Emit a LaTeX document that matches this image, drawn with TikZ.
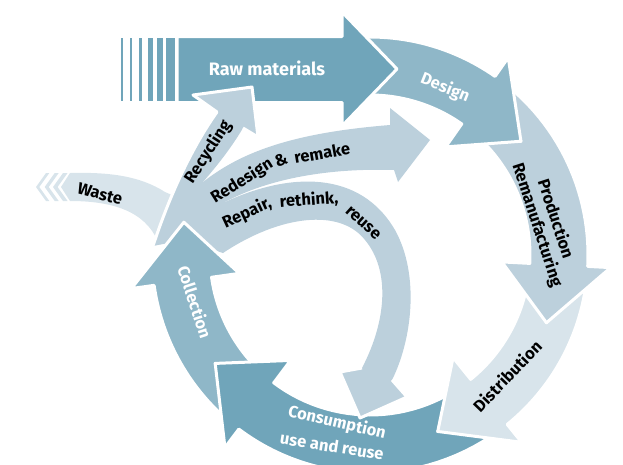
\documentclass[tikz,border=0pt]{standalone}
\usepackage{fontspec}
\setmainfont{Fira Sans}
\definecolor{cA}{HTML}{70A5BA}
\definecolor{cB}{HTML}{8FB7C8}
\definecolor{cC}{HTML}{BCD0DC}
\definecolor{cD}{HTML}{D8E4EB}
\newcommand\labfont{\fontsize{16.5}{19}\selectfont\bfseries}
% #1 colour, #2 tail angle, #3 notch angle, #4 head base angle
\newcommand\ringarrow[4]{%
  \filldraw[ringedge, fill=#1]
    plot[domain=#2:#4, samples=30] (\x:218) -- (#4:241) -- ({#4+18}:189) -- (#4:132)
    -- plot[domain=#4:#2, samples=30] (\x:160) -- (#3:189) -- cycle;}
\begin{document}
\begin{tikzpicture}[x=1pt,y=-1pt,
  ringedge/.style={draw=white, line width=3pt, line join=round},
  lab/.style={font=\labfont, inner sep=0pt},
  wlab/.style={lab, text=white}]
\useasboundingbox (0,0) rectangle (623,464);
% ---- main ring ----
\begin{scope}[shift={(370,255)}]
  \ringarrow{cB}{127}{145}{172}   % collection
  \ringarrow{cA}{51}{69}{127}     % consumption
  \ringarrow{cD}{3}{21}{51}       % distribution
  \ringarrow{cC}{-55}{-37}{3}     % production
  \ringarrow{cB}{-97}{-82.4}{-55} % design
\end{scope}
% ---- raw materials ----
\foreach \a/\w in {120.7/2, 129.7/2.7, 138.7/3.6, 147.7/5.6, 156.7/6.6, 165.7/9.3}
  \fill[cA] (\a,38) rectangle ++(\w,63);
\filldraw[ringedge, fill=cA] (177,36.5) -- (342,36.5) -- (342,12) -- (397,69)
  -- (342,126) -- (342,102.5) -- (177,102.5) -- cycle;
% ---- waste ----
\foreach \t/\w in {36/3.3, 44.7/4, 53/4.6}
  \fill[cD] ({\t+10},173) -- (\t,187) -- ({\t+10},201) -- ({\t+10+\w},201)
    -- ({\t+\w},187) -- ({\t+10+\w},173) -- cycle;
\fill[cD] (70,173) -- (61,187) -- (70,201) .. controls (110,201) and (145,210) .. (158,242)
  -- (175,240) -- (172,195) -- (165,192) .. controls (140,176) and (110,172) .. (70,173) -- cycle;
% ---- branches ----
\fill[cC] (184,240) -- (153,246) .. controls (168,200) and (190,150) .. (217,112)
  -- (193,95) -- (252,87) -- (258,137) -- (243,128) .. controls (230,150) and (215,168) .. (203,182)
  -- (225,202) -- (223,253) -- cycle;
\draw[ringedge] (153,246) .. controls (168,200) and (190,150) .. (217,112)
  -- (193,95) -- (252,87) -- (258,137) -- (243,128);
\fill[cC] (205,235) -- (203,182) .. controls (240,153) and (290,133) .. (390,125)
  -- (390,108) -- (430,140) -- (398,182) -- (394,170) .. controls (330,168) and (270,178) .. (225,202) -- cycle;
\fill[cC] (225,202) .. controls (290,172) and (360,170) .. (395,230)
  .. controls (420,275) and (412,340) .. (392,380) -- (407,397) -- (360,418) -- (340,372) -- (362,368)
  .. controls (387,320) and (390,270) .. (365,240) .. controls (340,208) and (280,215) .. (223,253)
  -- (205,235) -- cycle;
\draw[ringedge] (392,380) -- (407,397) -- (360,418) -- (340,372) -- (362,368);
% ---- collection head on top of the branches ----
\begin{scope}
  \clip (0,0) rectangle (623,330);
  \begin{scope}[shift={(370,255)}]
    \ringarrow{cB}{127}{145}{172}
  \end{scope}
\end{scope}
% ---- labels ----
\node[wlab, font=\fontsize{18}{20}\selectfont\bfseries] (raw) at (267,68) {Raw materials};
\node[wlab, rotate=-22] (design) at (445,88) {Design};
\node[lab, rotate=-72, align=center] (prod) at (546,222) {Production\\Remanufacturing};
\node[lab, rotate=46] (dist) at (507,376) {Distribution};
\node[wlab, rotate=-72] (coll) at (195,302) {Collection};
\node[wlab, rotate=-13] (cons) at (337,423) {Consumption};
\node[wlab, rotate=-9] (use) at (332,446) {use and reuse};
\node[lab, rotate=57] (recy) at (208,152) {Recycling};
\node[lab, rotate=-15] (waste) at (100,194) {Waste};
\node[lab, rotate=32] (rd1) at (242,181) {Redesign};
\node[lab, rotate=20] (rd2) at (281,160) {\&};
\node[lab, rotate=10] (rd3) at (322,153) {remake};
\node[lab, rotate=25] (rp1) at (247,213) {Repair,};
\node[lab, rotate=4] (rp2) at (309,200) {rethink,};
\node[lab, rotate=-42] (rp3) at (363,223) {reuse};
\end{tikzpicture}
\end{document}
